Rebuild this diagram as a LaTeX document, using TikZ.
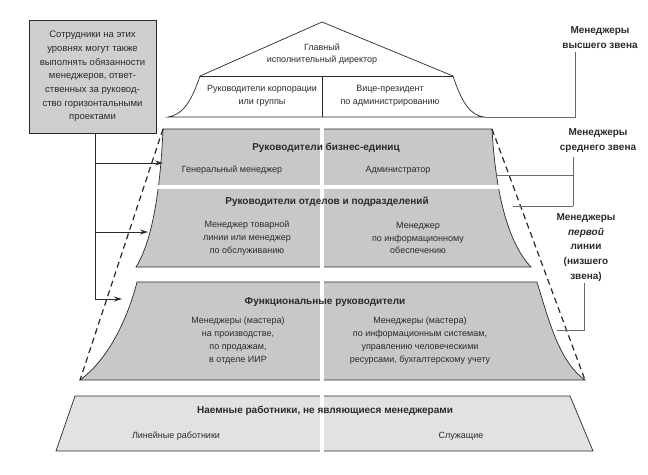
\documentclass[tikz,border=0pt]{standalone}
\usepackage{fontspec}
\setmainfont{Liberation Sans}
\usetikzlibrary{arrows.meta,calc}
\definecolor{secgray}{HTML}{C8C8C8}
\definecolor{notegray}{HTML}{CFCFCF}
\definecolor{basegray}{HTML}{E2E2E2}
\definecolor{ink}{HTML}{2A2A2A}
\begin{document}
\begin{tikzpicture}[x=1pt,y=-1pt,
  outl/.style={draw=ink,line width=0.7pt},
  txt/.style={font=\fontsize{9}{12.8}\selectfont,align=center,inner sep=0pt,text=ink},
  btxt/.style={font=\fontsize{10}{13}\selectfont\bfseries,align=center,inner sep=0pt,text=ink},
  lbl/.style={font=\fontsize{10}{14.8}\selectfont\bfseries,align=center,inner sep=0pt,text=ink},
  brk/.style={draw=ink!70,line width=0.5pt},
  gap/.style={draw=white,line width=4pt},
  dsh/.style={draw=ink,line width=1.2pt,dash pattern=on 6pt off 4pt},
  arr/.style={draw=ink,line width=0.9pt,-{Stealth[length=8pt,width=5pt]}},
  trunkline/.style={draw=ink,line width=0.9pt}]
\useasboundingbox (0,0) rectangle (648,474);

% left note
\node[draw=ink,line width=0.7pt,fill=notegray,minimum width=127pt,minimum height=113pt,
      inner sep=0pt,font=\fontsize{9.5}{13.7}\selectfont,align=center,text=ink] (note) at (92.5,76.5)
  {Сотрудники на этих\\уровнях могут также\\выполнять обязанности\\менеджеров, ответ-\\ственных за руковод-\\ство горизонтальными\\проектами};

% top pyramid
\coordinate (apex) at (322,22);
\coordinate (rl) at (200,76);
\coordinate (rr) at (453,76);
\coordinate (bl) at (168,117);
\coordinate (br) at (484,117);
\draw[outl,fill=white] (apex) -- (rl) .. controls (191,103) and (182,115) .. (bl) -- (br)
  .. controls (470,115) and (462,103) .. (rr) -- cycle;
\draw[outl] (rl) -- (rr);
\draw[outl] (322,76) -- (322,117);

% sections 1+2
\coordinate (s1tl) at (163,129);
\coordinate (s1tr) at (492,129);
\coordinate (s2bl) at (136,267);
\coordinate (s2br) at (531,267);
\draw[outl,fill=secgray] (s1tl) -- (s1tr) .. controls (496,200) and (510,245) .. (s2br) -- (s2bl)
  .. controls (150,245) and (160,200) .. (s1tl) -- cycle;

% section 3
\coordinate (s3tl) at (137,282);
\coordinate (s3tr) at (537,282);
\coordinate (s3bl) at (80,380);
\coordinate (s3br) at (585,380);
\draw[outl,fill=secgray] (s3tl) -- (s3tr) .. controls (550,325) and (560,362) .. (s3br) -- (s3bl)
  .. controls (105,362) and (126,325) .. (s3tl) -- cycle;

% section 4
\draw[outl,fill=basegray] (75,396) -- (570,396) -- (593,451) -- (56,451) -- cycle;

% white gaps
\draw[gap] (322,125) -- (322,271);
\draw[gap] (322,278) -- (322,384);
\draw[gap] (322,392) -- (322,455);
\draw[gap] (140,186.5) -- (515,186.5);

% dashed guides
\draw[dsh] (s1tl) -- (s3bl);
\draw[dsh] (s1tr) -- (s3br);

% brackets
\draw[brk] (br) -- (575,117) -- (575,52);
\draw[brk] (496,175) -- (573,175);
\draw[brk] (513,206) -- (573,206);
\draw[brk] (573,157) -- (573,206);
\draw[brk] (557,330) -- (584,330) -- (584,283);

% arrows from note
\coordinate (trunk) at ($(note.south)+(2.5,0)$);
\coordinate (t1) at (163,163);
\coordinate (t2) at (148,232);
\coordinate (t3) at (122,299);
\draw[trunkline] (trunk) -- (trunk |- t3);
\draw[arr] (trunk |- t1) -- (t1);
\draw[arr] (trunk |- t2) -- (t2);
\draw[arr] (trunk |- t3) -- (t3);

% texts
\node[txt] (ceo) at (322,54) {Главный\\исполнительный директор};
\node[txt] (corp) at (262,95.5) {Руководители корпорации\\или группы};
\node[txt] (vp) at (390,95.5) {Вице-президент\\по администрированию};

\node[btxt] (bu) at (326,148) {Руководители бизнес-единиц};
\node[txt] (gm) at (232,170) {Генеральный менеджер};
\node[txt] (adm) at (398,170) {Администратор};

\node[btxt] (dept) at (327,202) {Руководители отделов и подразделений};
\node[txt] (plm) at (247,238) {Менеджер товарной\\линии или менеджер\\по обслуживанию};
\node[txt] (info) at (418,238) {Менеджер\\по информационному\\обеспечению};

\node[btxt] (func) at (325,302) {Функциональные руководители};
\node[txt] (fm1) at (238,340.5) {Менеджеры (мастера)\\на производстве,\\по продажам,\\в отделе ИИР};
\node[txt] (fm2) at (420,340.5) {Менеджеры (мастера)\\по информационным системам,\\управлению человеческими\\ресурсами, бухгалтерскому учету};

\node[btxt] (emp) at (325,411) {Наемные работники, не являющиеся менеджерами};
\node[txt] (lin) at (176,436) {Линейные работники};
\node[txt] (serv) at (461,436) {Служащие};

\node[lbl] (ltop) at (600,38) {Менеджеры\\высшего звена};
\node[lbl] (lmid) at (598,140.5) {Менеджеры\\среднего звена};
\node[lbl] (llow) at (586,247.5) {Менеджеры\\\textit{первой}\\линии\\(низшего\\звена)};
\end{tikzpicture}
\end{document}
